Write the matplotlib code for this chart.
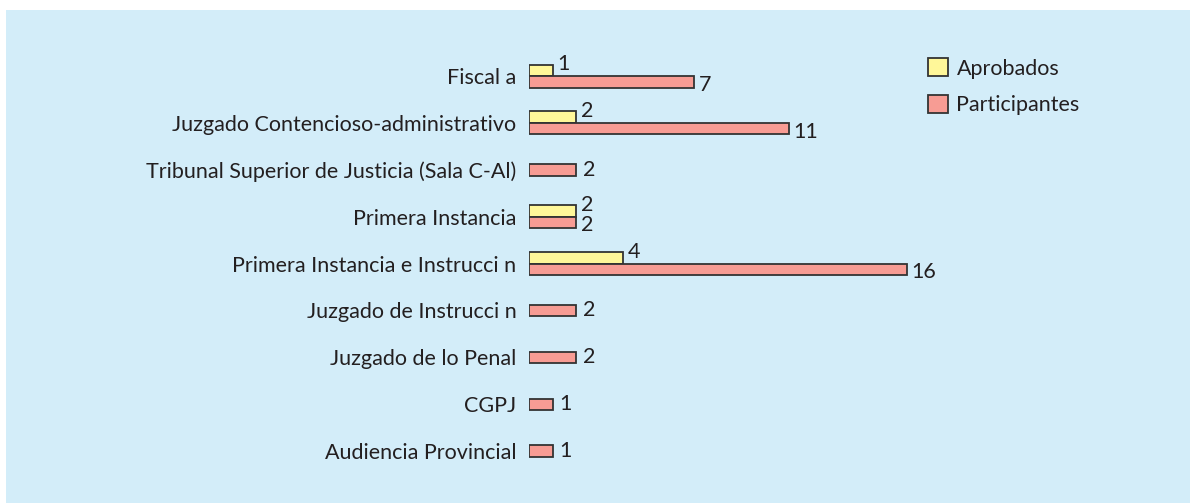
import matplotlib
matplotlib.use("Agg")

import matplotlib.pyplot as plt
import numpy as np
from matplotlib.patches import Rectangle

categorias = [
    "Fiscal a",
    "Juzgado Contencioso-administrativo",
    "Tribunal Superior de Justicia (Sala C-Al)",
    "Primera Instancia",
    "Primera Instancia e Instrucci n",
    "Juzgado de Instrucci n",
    "Juzgado de lo Penal",
    "CGPJ",
    "Audiencia Provincial",
]
aprobados = [1, 2, 0, 2, 4, 0, 0, 0, 0]
participantes = [7, 11, 2, 2, 16, 2, 2, 1, 1]

fondo = "#D3EDF9"
amarillo = "#FFF799"
rojo = "#F79C94"
borde = "#333333"
txt = "#231F20"

plt.rcParams["font.family"] = ["Lato", "DejaVu Sans"]
fs = 15.5

W, H = 1190, 503
fig = plt.figure(figsize=(W / 100, H / 100), dpi=100, facecolor="white")
fig.patches.append(Rectangle((6 / W, 0), 1 - 6 / W, (H - 10) / H,
                             transform=fig.transFigure, facecolor=fondo,
                             edgecolor="none", zorder=-10))

# axes from bar origin to right edge, full panel height
x0 = 529
ax = fig.add_axes([x0 / W, 0, (W - x0) / W, (H - 10) / H])
ax.set_facecolor("none")
ax.set_zorder(2)

ppu_x = 23.6
ax.set_xlim(0, (W - x0) / ppu_x)
step = 46.9
ax.set_ylim((H - 76) / step, -(76 - 10) / step)

bh = 11.5 / step
n = len(categorias)
y = np.arange(n)

for i in range(n):
    a = aprobados[i]
    p = participantes[i]
    if a > 0:
        ya, yp = y[i] - bh / 2, y[i] + bh / 2
        ax.barh(ya, a, height=bh, color=amarillo, edgecolor=borde, linewidth=1.3)
        ax.text(a + 0.2, ya - 6 / step, str(a), va="center", ha="left", fontsize=fs, color=txt)
        ax.text(p + 0.2, yp + 3 / step, str(p), va="center", ha="left", fontsize=fs, color=txt)
    else:
        yp = y[i]
        ax.text(p + 0.3, yp, str(p), va="center", ha="left", fontsize=fs, color=txt)
    ax.barh(yp, p, height=bh, color=rojo, edgecolor=borde, linewidth=1.3)

ax.set_yticks(y)
ax.set_yticklabels(categorias, fontsize=fs, color=txt)
ax.tick_params(axis="y", length=0, pad=9)
ax.tick_params(axis="x", bottom=False, labelbottom=False)
for s in ax.spines.values():
    s.set_visible(False)

# legend
hs = [Rectangle((0, 0), 1, 1, facecolor=amarillo, edgecolor=borde, linewidth=1.3),
      Rectangle((0, 0), 1, 1, facecolor=rojo, edgecolor=borde, linewidth=1.3)]
fig.legend(hs, ["Aprobados", "Participantes"], loc="upper left",
           bbox_to_anchor=(922 / W, 1 - 52 / H), frameon=False, fontsize=fs,
           handlelength=0.9, handleheight=0.9, handletextpad=0.4,
           labelspacing=0.75, borderaxespad=0, borderpad=0.3, labelcolor=txt)

fig.savefig("out.png", dpi=100, facecolor="white")
